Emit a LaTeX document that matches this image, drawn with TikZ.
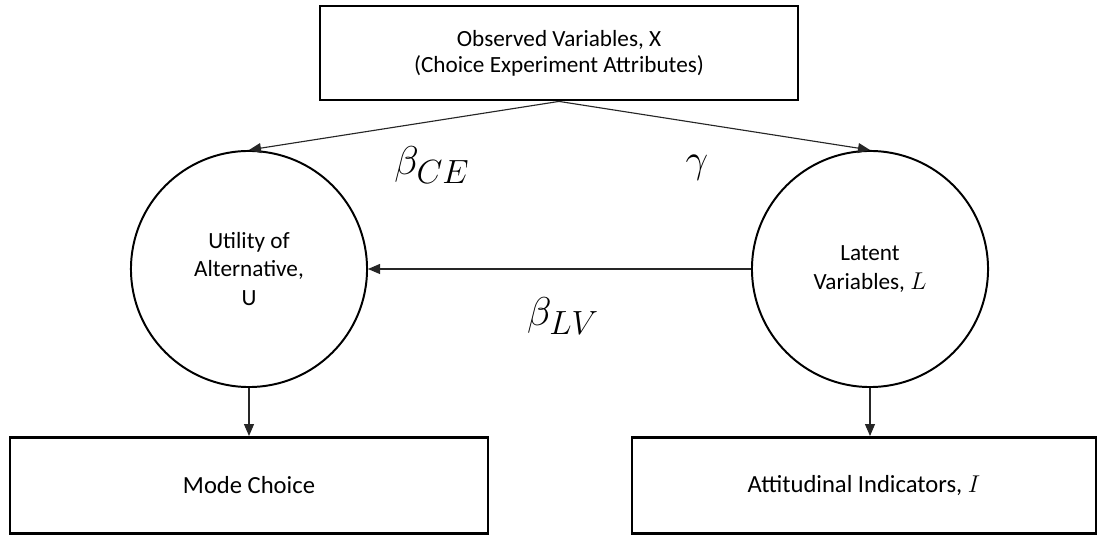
\documentclass[tikz,border=0pt]{standalone}
\usepackage{fontspec}
\setmainfont{Carlito}
\usetikzlibrary{arrows.meta, positioning}
\tikzset{
    varbox/.style={
        rectangle, draw=black, line width=2pt, fill=white,
        minimum width=11.95cm, minimum height=2.35cm, align=center,
        inner sep=0pt, font=\fontsize{16.5}{18.5}\selectfont
    },
    outbox/.style={
        varbox, minimum height=2.4cm, font=\fontsize{17.5}{20}\selectfont
    },
    latentnode/.style={
        circle, draw=black, line width=1.4pt, fill=white,
        minimum size=5.9cm, align=center, inner sep=0pt,
        font=\fontsize{16.5}{20}\selectfont
    },
    connection/.style={draw=black!85, line width=0.8pt, -{Triangle[length=0.3cm, width=0.25cm]}},
    coef/.style={font=\fontsize{32}{36}\selectfont}
}
\newcommand{\coefsym}[1]{\scalebox{1.15}{$#1$}}

\begin{document}
\begin{tikzpicture}[x=0.025cm, y=-0.025cm]
\useasboundingbox (0,0) rectangle (1099,536);

% Variables
\node[varbox] (obs) at (559,53) {Observed Variables, X\\(Choice Experiment Attributes)};
\node[latentnode] (util) at (249,269) {Utility of\\Alternative,\\U};
\node[latentnode] (lat) at (870,269) {Latent\\Variables, $L$};
\node[outbox, below=1.2cm of util] (mode) {Mode Choice};
\node[outbox, minimum width=11.6cm, below=1.2cm of lat, xshift=-0.15cm] (att) {Attitudinal Indicators, $I$};

% Paths
\draw[connection] (obs.south) -- (util.north);
\draw[connection] (obs.south) -- (lat.north);
\draw[connection] (lat.west) -- (util.east);
\draw[connection] (util.south) -- (mode.north);
\draw[connection] (lat.south) -- (lat.south |- att.north);

% Coefficients
\node[coef] (bce) at (432,165) {\coefsym{\beta_{CE}}};
\node[coef] (gam) at (697,168) {\coefsym{\gamma}};
\node[coef] (blv) at (563,316) {\coefsym{\beta_{LV}}};

\end{tikzpicture}
\end{document}
